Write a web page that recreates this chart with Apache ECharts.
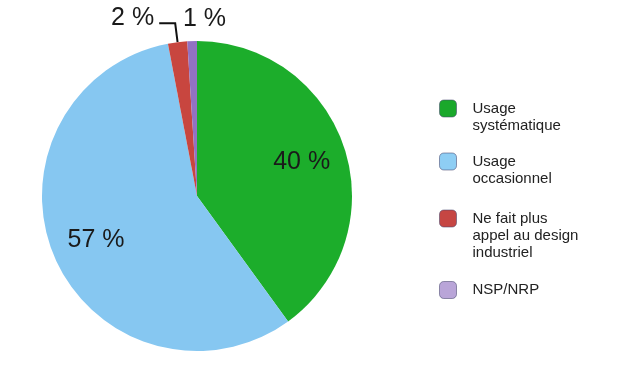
<!DOCTYPE html>
<html>
<head>
<meta charset="utf-8">
<script src="https://cdn.jsdelivr.net/npm/echarts@6/dist/echarts.min.js"></script>
<style>html,body{margin:0;padding:0;background:#fff}#c{width:636px;height:382px}</style>
</head>
<body>
<div id="c"></div>
<script>
const categories = ['Usage\nsystématique', 'Usage\noccasionnel', 'Ne fait plus\nappel au design\nindustriel', 'NSP/NRP'];
const values = [40, 57, 2, 1];
const sliceColors = ['#1cad2b', '#86c7f1', '#c8463f', '#9272c2'];
const legendColors = ['#1aa82b', '#8ecef4', '#c64643', '#b9a5d8'];

const FONT = '"Liberation Sans", Arial, Helvetica, sans-serif';
const chart = echarts.init(document.getElementById('c'), null, {renderer: 'canvas'});

const center = [197, 196];
const mainData = categories.map((n, i) => ({
  name: n, value: values[i],
  itemStyle: {color: sliceColors[i]},
  label: {show: i >= 2},
  labelLine: {show: i === 2}
}));
const overlayData = categories.map((n, i) => ({
  name: n, value: values[i],
  itemStyle: {color: 'rgba(0,0,0,0)'},
  label: {show: i < 2}
}));

const legendTops = [83, 136, 176, 281];
const legends = categories.map((n, i) => {
  const lines = n.split('\n').length;
  return {
    orient: 'vertical', left: 439, top: legendTops[i], padding: 0,
    itemWidth: 17, itemHeight: 17, selectedMode: false,
    data: [{
      name: n,
      itemStyle: {color: legendColors[i], borderColor: 'rgba(70,70,110,0.55)', borderWidth: 1}
    }],
    formatter: name => '\n'.repeat(lines - 1) + name,
    textStyle: {fontFamily: FONT, fontSize: 15, lineHeight: 17, color: '#222', padding: [0, 0, 0, 11]}
  };
});

chart.setOption({
  animation: false,
  legend: legends,
  series: [
    {
      type: 'pie', center: center, radius: 155, startAngle: 90, clockwise: true,
      avoidLabelOverlap: false, silent: true,
      data: mainData,
      label: {
        position: 'outside', fontFamily: FONT, fontSize: 25, lineHeight: 11, color: '#1a1a1a',
        formatter: p => p.value + ' %\n '
      },
      labelLine: {length: 19, length2: 16, lineStyle: {color: '#111', width: 2}, smooth: false},
      labelLayout: function (params) {
        if (params.dataIndex === 3) {
          return {x: 183, dy: 3, align: 'left'};
        }
        return {};
      }
    },
    {
      type: 'pie', center: center, radius: 214, startAngle: 90, clockwise: true,
      avoidLabelOverlap: false, silent: true, z: 3,
      data: overlayData,
      label: {
        position: 'inside', fontFamily: FONT, fontSize: 25, color: '#1a1a1a',
        formatter: p => p.value + ' %'
      },
      labelLine: {show: false}
    }
  ]
});
</script>
</body>
</html>
